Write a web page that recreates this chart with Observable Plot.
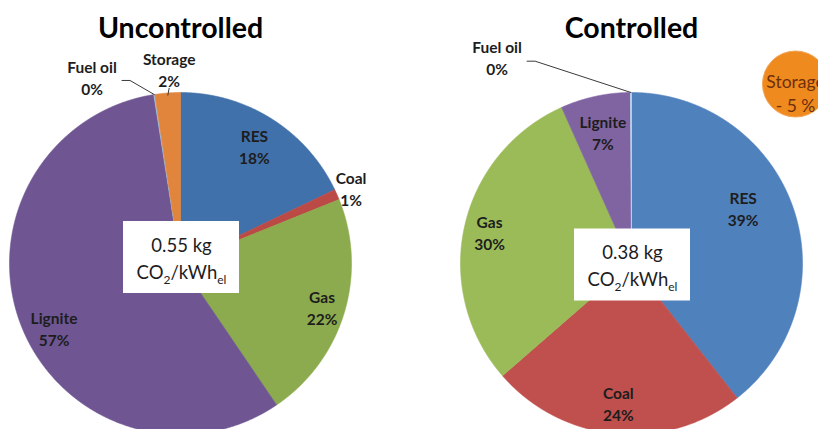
<!DOCTYPE html>
<html><head><meta charset="utf-8">
<script src="https://cdn.jsdelivr.net/npm/d3@7"></script>
<script src="https://cdn.jsdelivr.net/npm/@observablehq/plot@0.6"></script>
<style>
html,body{margin:0;padding:0;background:#fff;overflow:hidden;width:818px;height:429px;}
#chart svg{overflow:hidden;display:block;}
</style></head><body><div id="chart"></div>
<script>
// ---- data ----
const scenarios = ["Uncontrolled", "Controlled"];
const sources = ["RES", "Coal", "Gas", "Lignite", "Fuel oil", "Storage"];
const uncontrolledShares = [17.9, 1.0, 21.6, 57.0, 0.1, 2.4];
const controlledShares = [39.4, 24.2, 29.7, 6.6, 0.1, 0];
const emissions = [0.55, 0.38];
const emissionUnit = "CO2/kWhel";
const controlledStorage = -5;

// ---- styles / layout ----
const palettes = {
  Uncontrolled: {RES:"#4171aa", Coal:"#bb4a46", Gas:"#8cab4e", Lignite:"#6f5692", "Fuel oil":"#9cc5e0", Storage:"#e2853c"},
  Controlled:   {RES:"#4f81bd", Coal:"#c0504d", Gas:"#9bbb59", Lignite:"#8064a2", "Fuel oil":"#c4def0", Storage:"#f79646"}
};
const W = 818, H = 429;
const R = 171;          // pie radius in px
const px = 1 / R;       // one pixel in data units
const firstCx = 180, step = 451, cy = 263, bandW = 350;
const labelLayout = {
  "Uncontrolled|RES": {r: 0.81},
  "Uncontrolled|Coal": {r: 1.09},
  "Uncontrolled|Gas": {r: 0.865},
  "Uncontrolled|Lignite": {r: 0.83, da: -5.4},
  "Uncontrolled|Fuel oil": {r: 1.21, da: -16.5, leader: true},
  "Uncontrolled|Storage": {r: 1.14, da: 1, tick: true},
  "Controlled|RES": {r: 0.73, da: -7.5},
  "Controlled|Coal": {r: 0.82},
  "Controlled|Gas": {r: 0.85},
  "Controlled|Lignite": {r: 0.79},
  "Controlled|Fuel oil": {r: 1.44, da: -32.9, leader: true}
};
const boxDy = {Uncontrolled: -6, Controlled: 1.5}; // px, down positive
const boxW = 116, boxH = 72;
const storageBubble = {dx: 164, dy: -179.5, textDy: -171, r: 33};

// ---- geometry from data ----
function pieRows(scenario, shares) {
  const items = sources.map((s, i) => ({scenario, source: s, value: shares[i]})).filter(d => d.value > 0);
  return d3.pie().sort(null).value(d => d.value)(items)
    .map(a => ({...a.data, a0: a.startAngle, a1: a.endAngle, mid: (a.startAngle + a.endAngle) / 2}));
}
const slices = [...pieRows("Uncontrolled", uncontrolledShares), ...pieRows("Controlled", controlledShares)];

const polyPoints = slices.flatMap(s => {
  const n = Math.max(2, Math.ceil((s.a1 - s.a0) / 0.004));
  const pts = [{x: 0, y: 0}];
  for (let k = 0; k <= n; k++) {
    const a = s.a0 + (s.a1 - s.a0) * k / n;
    pts.push({x: Math.sin(a), y: Math.cos(a)});
  }
  pts.push({x: 0, y: 0});
  return pts.map(p => ({...p, scenario: s.scenario, key: s.scenario + "|" + s.source, color: palettes[s.scenario][s.source]}));
});

const labelRows = slices.map(s => {
  const L = labelLayout[s.scenario + "|" + s.source] || {};
  const a = s.mid + (L.da || 0) * Math.PI / 180;
  const r = L.r ?? 0.82;
  return {...s, x: r * Math.sin(a), y: r * Math.cos(a),
    text: `${s.source}\n${Math.round(s.value)}%`, leader: L.leader, tick: L.tick};
});

const leaderPts = labelRows.filter(d => d.leader).flatMap(d => {
  const key = d.scenario + "|" + d.source;
  return [
    {x: d.x + 30 * px, y: d.y - 4 * px},
    {x: d.x + 38 * px, y: d.y - 4 * px},
    {x: Math.sin(d.mid), y: Math.cos(d.mid)}
  ].map(p => ({...p, scenario: d.scenario, key}));
});
const tickRows = labelRows.filter(d => d.tick);

const boxRows = scenarios.map((s, i) => ({
  scenario: s, value: emissions[i],
  x1: -boxW / 2 * px + px, x2: boxW / 2 * px + px,
  y1: -(boxDy[s] - boxH / 2) * px, y2: -(boxDy[s] + boxH / 2) * px,
  yTop: -(boxDy[s] - 11.5) * px, yBot: -(boxDy[s] + 15.5) * px
}));

const storageRows = [{scenario: "Controlled", value: controlledStorage}];

// ---- scales ----
const pad = 1 - bandW / step;
const marginLeft = firstCx - bandW / 2;
const marginRight = W - (marginLeft + step + bandW);
const xHalf = bandW / 2 / R;
const yDomain = [-(H - cy) / R, cy / R];

const font = "Lato, 'Open Sans', sans-serif";
const dark = "#1d1d1d";

const chart = Plot.plot({
  width: W, height: H,
  marginLeft, marginRight, marginTop: 0, marginBottom: 0,
  style: {fontFamily: font, background: "white"},
  fx: {domain: scenarios, paddingInner: pad, paddingOuter: 0, axis: null, label: null},
  x: {domain: [-xHalf, xHalf], axis: null},
  y: {domain: yDomain, axis: null},
  marks: [
    Plot.line(polyPoints, {fx: "scenario", x: "x", y: "y", z: "key", fill: "color", stroke: "color", strokeWidth: 0.6, curve: "linear"}),
    Plot.text(scenarios, {fx: d => d, text: d => d, frameAnchor: "top", lineAnchor: "middle", dy: 28, fontSize: 28.5, fontWeight: "bold", fill: "#000"}),
    Plot.line(leaderPts, {fx: "scenario", x: "x", y: "y", z: "key", stroke: "#3a3a3a", strokeWidth: 1, curve: "linear"}),
    Plot.link(tickRows, {fx: "scenario", x1: "x", y1: d => d.y - 19 * px, x2: d => 0.985 * Math.sin(d.mid), y2: d => 0.985 * Math.cos(d.mid), stroke: "#3a3a3a", strokeWidth: 1}),
    Plot.text(labelRows, {fx: "scenario", x: "x", y: "y", text: "text", fontSize: 15.5, fontWeight: "bold", lineHeight: 1.42, fill: dark}),
    Plot.rect(boxRows, {fx: "scenario", x1: "x1", x2: "x2", y1: "y1", y2: "y2", fill: "white"}),
    Plot.text(boxRows, {fx: "scenario", x: d => px, y: "yTop", text: d => `${d.value} kg`, fontSize: 18.5, fill: dark}),
    Plot.text(boxRows, {fx: "scenario", x: d => px, y: "yBot", text: () => emissionUnit, fontSize: 18.5, fill: dark}),
    Plot.dot(storageRows, {fx: "scenario", x: () => storageBubble.dx * px, y: () => -storageBubble.dy * px, r: storageBubble.r, fill: "#ef8a1e", stroke: "#f3a456", strokeWidth: 1}),
    Plot.text(storageRows, {fx: "scenario", x: () => storageBubble.dx * px, y: () => -storageBubble.textDy * px,
      text: d => `Storage\n- ${Math.abs(d.value)} %`, fontSize: 17.5, lineHeight: 1.35, fill: "#6e2f0c"})
  ]
});

// subscripts for CO2/kWhel
chart.querySelectorAll("text").forEach(t => {
  if (t.textContent === emissionUnit) {
    t.innerHTML = 'CO<tspan font-size="12" dy="5">2</tspan><tspan dy="-5">/kWh</tspan><tspan font-size="12" dy="5">el</tspan>';
  }
});

document.getElementById("chart").appendChild(chart);
</script></body></html>
